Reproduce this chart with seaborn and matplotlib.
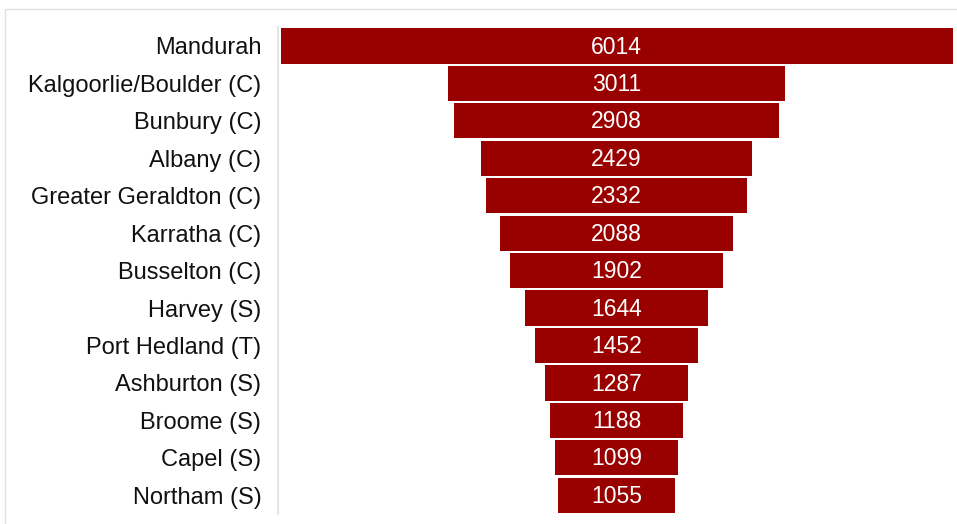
import pandas as pd
import seaborn as sns
import matplotlib.pyplot as plt
from matplotlib.patches import Rectangle

# Data
regions = ["Mandurah", "Kalgoorlie/Boulder (C)", "Bunbury (C)", "Albany (C)",
           "Greater Geraldton (C)", "Karratha (C)", "Busselton (C)", "Harvey (S)",
           "Port Hedland (T)", "Ashburton (S)", "Broome (S)", "Capel (S)", "Northam (S)"]
counts = [6014, 3011, 2908, 2429, 2332, 2088, 1902, 1644, 1452, 1287, 1188, 1099, 1055]

df = pd.DataFrame({"region": regions, "count": counts})
df["right"] = df["count"] / 2
df["left"] = -df["count"] / 2

sns.set_style("white")
plt.rcParams["font.family"] = ["Liberation Sans", "DejaVu Sans"]

fig = plt.figure(figsize=(9.57, 5.24), dpi=100)
ax = fig.add_axes([0.2905, 0.019, 0.7075, 0.929])

# funnel: two mirrored halves around zero
for col in ["right", "left"]:
    sns.barplot(data=df, x=col, y="region", color="#990000", saturation=1,
                width=0.94, linewidth=0, ax=ax, orient="h")

for i, v in enumerate(counts):
    ax.text(0, i + 0.03, str(v), color="white", ha="center", va="center", fontsize=16.5)

ax.set_xlim(-3030, 3030)
ax.set_xlabel("")
ax.set_ylabel("")
ax.set_xticks([])
ax.tick_params(axis="y", length=0, labelsize=17, pad=12, labelcolor="#111111")
for side in ["top", "right", "bottom"]:
    ax.spines[side].set_visible(False)
ax.spines["left"].set_color("#e6e6e6")
ax.spines["left"].set_linewidth(1.5)

# light frame around the chart
fig.patches.append(Rectangle((5 / 957, -0.01), 1.0, 1 - 9 / 524 + 0.01,
                             transform=fig.transFigure, fill=False,
                             edgecolor="#e0e0e0", linewidth=1))

plt.savefig("out.png", dpi=100)
